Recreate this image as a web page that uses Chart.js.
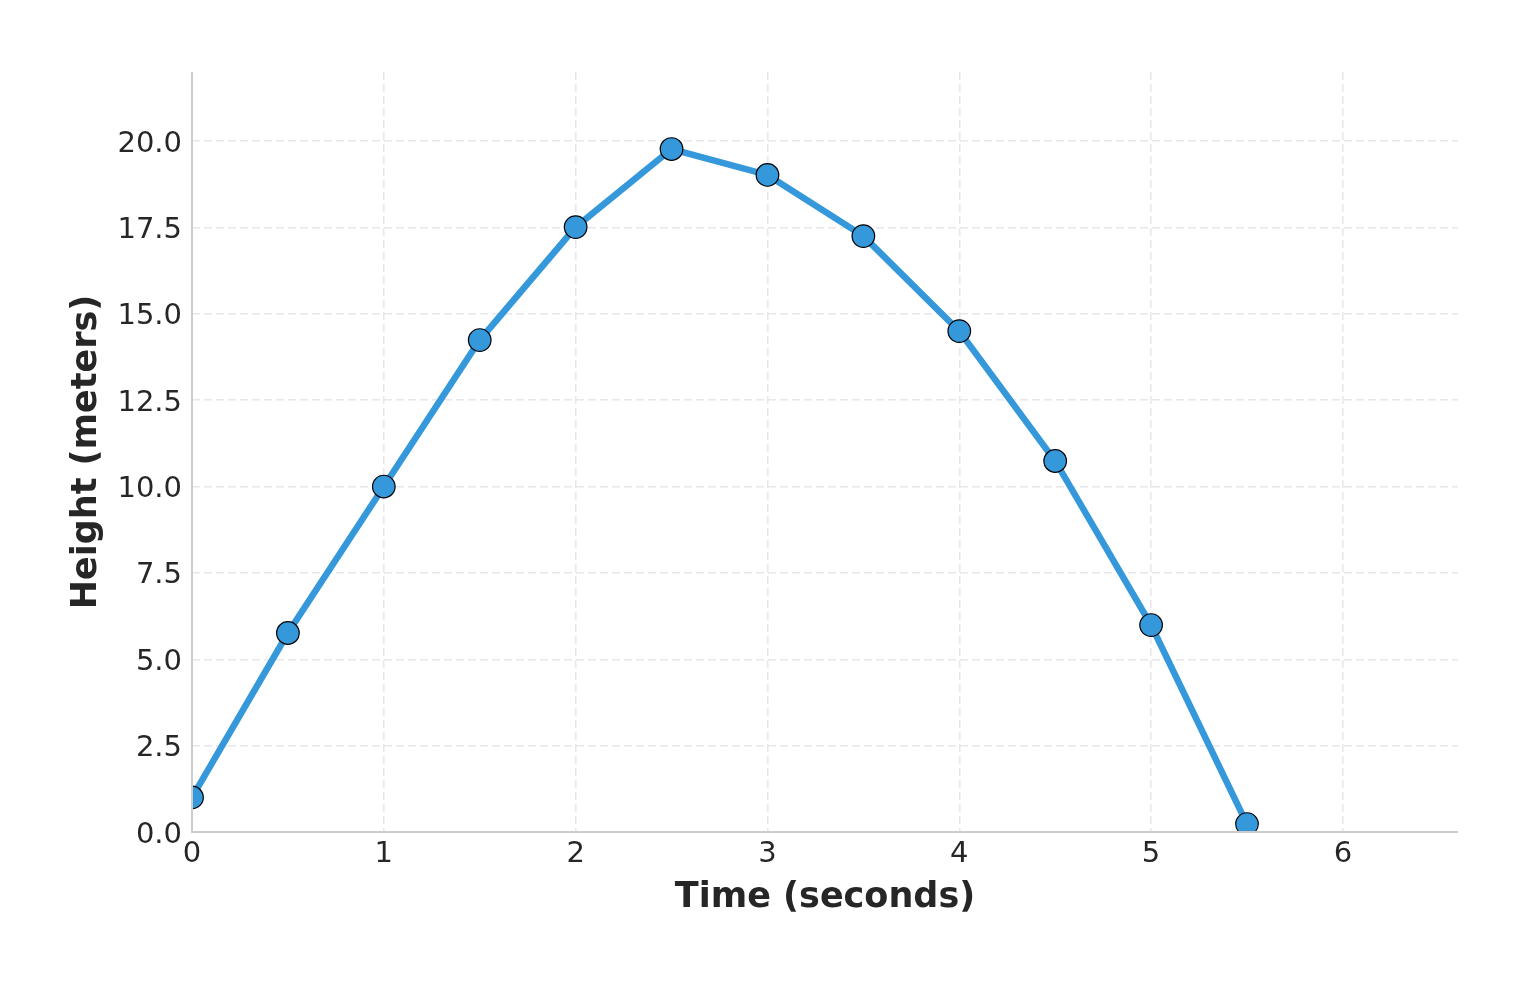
<!DOCTYPE html>
<html>
<head>
<meta charset="utf-8">
<script src="https://cdn.jsdelivr.net/npm/chart.js@4/dist/chart.umd.min.js"></script>
<style>
html,body{margin:0;padding:0;background:#fff;}
#wrap{width:1530px;height:986px;position:relative;}
</style>
</head>
<body>
<div id="wrap"><canvas id="c" width="1530" height="986"></canvas></div>
<script>
const timeValues = [0, 0.5, 1, 1.5, 2, 2.5, 3, 3.5, 4, 4.5, 5, 5.5];
const heightValues = [1.0, 5.76, 10.0, 14.24, 17.51, 19.77, 19.02, 17.25, 14.50, 10.74, 5.99, 0.23];
const xTickValues = [0, 1, 2, 3, 4, 5, 6];
const yTickValues = [0, 2.5, 5, 7.5, 10, 12.5, 15, 17.5, 20];

const points = timeValues.map((t, i) => ({x: t, y: heightValues[i]}));
const font = "'DejaVu Sans', sans-serif";
const textColor = '#262626';

// Axis spines drawn separately (solid) since grid dash uses border.dash
const spinePlugin = {
  id: 'spines',
  afterDatasetsDraw(chart) {
    const {ctx, chartArea: a} = chart;
    ctx.save();
    ctx.strokeStyle = '#cccccc';
    ctx.lineWidth = 2;
    ctx.setLineDash([]);
    ctx.beginPath();
    ctx.moveTo(a.left, a.top);
    ctx.lineTo(a.left, a.bottom);
    ctx.lineTo(a.right, a.bottom);
    ctx.stroke();
    ctx.restore();
  }
};

new Chart(document.getElementById('c'), {
  type: 'scatter',
  data: {
    datasets: [{
      data: points,
      showLine: true,
      borderColor: '#3498db',
      borderWidth: 6.5,
      backgroundColor: '#3498db',
      pointBackgroundColor: '#3498db',
      pointBorderColor: '#000000',
      pointBorderWidth: 1.2,
      pointRadius: 11.3,
      pointHoverRadius: 11.3,
      clip: 0,
      tension: 0
    }]
  },
  options: {
    responsive: false,
    animation: false,
    devicePixelRatio: 1,
    layout: {padding: {left: 66, right: 72, top: 72, bottom: 50}},
    plugins: {legend: {display: false}, tooltip: {enabled: false}},
    scales: {
      x: {
        type: 'linear',
        min: 0, max: 6.6,
        afterBuildTicks: s => { s.ticks = xTickValues.map(v => ({value: v})); },
        afterFit: s => { s.height = 104; },
        border: {display: false, dash: [8, 4]},
        grid: {display: true, color: '#e6e6ec', lineWidth: 1.5, drawTicks: false},
        ticks: {
          font: {family: font, size: 29}, color: textColor, padding: 5,
          maxRotation: 0, autoSkip: false,
          callback: v => String(v)
        },
        title: {display: true, text: 'Time (seconds)', font: {family: font, size: 35, weight: 'bold'}, color: textColor, padding: {top: 0, bottom: 17}}
      },
      y: {
        type: 'linear',
        min: 0, max: 22,
        afterBuildTicks: s => { s.ticks = yTickValues.map(v => ({value: v})); },
        afterFit: s => { s.width = 126; },
        border: {display: false, dash: [8, 4]},
        grid: {display: true, color: '#e6e6ec', lineWidth: 1.5, drawTicks: false},
        ticks: {
          font: {family: font, size: 29}, color: textColor, padding: 10,
          autoSkip: false, labelOffset: 3,
          callback: v => Number(v).toFixed(1)
        },
        title: {display: true, text: 'Height (meters)', font: {family: font, size: 35, weight: 'bold'}, color: textColor, padding: {top: 0, bottom: 0}}
      }
    }
  },
  plugins: [spinePlugin]
});
</script>
</body>
</html>
